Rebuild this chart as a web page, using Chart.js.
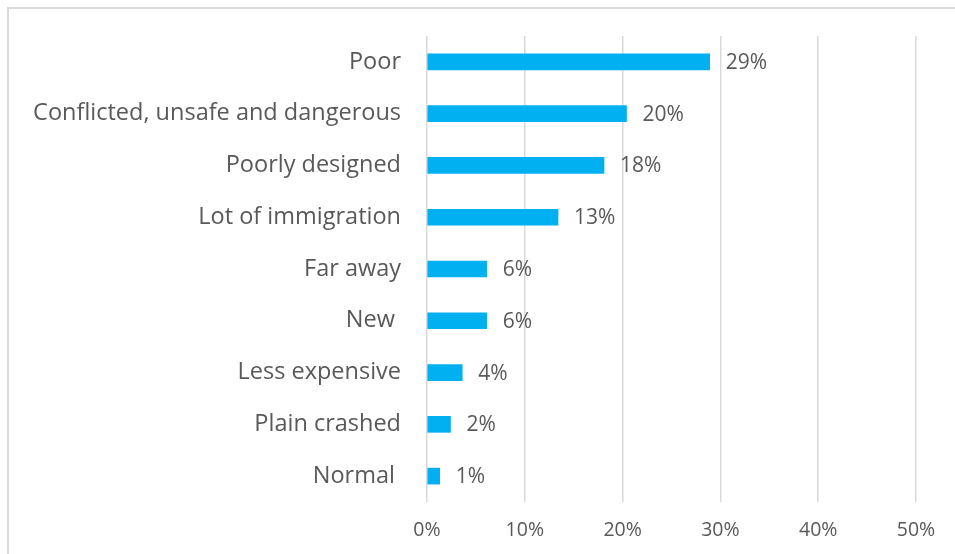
<!DOCTYPE html>
<html>
<head>
<meta charset="utf-8">
<script src="https://cdn.jsdelivr.net/npm/chart.js@4.4.0/dist/chart.umd.min.js"></script>
<style>
  html, body { margin: 0; padding: 0; background: #ffffff; overflow: hidden; }
  #marco {
    position: absolute; left: 7px; top: 7px; width: 960px; height: 560px;
    border-top: 2px solid #d9d9d9; border-left: 2px solid #d9d9d9;
  }
  #caja { position: absolute; left: 0; top: 0; width: 955px; height: 554px; }
</style>
</head>
<body>
<div id="marco"></div>
<div id="caja"><canvas id="barChart"></canvas></div>
<script>
// datos
const categorias = ["Poor", "Conflicted, unsafe and dangerous", "Poorly designed", "Lot of immigration",
    "Far away", "New ", "Less expensive", "Plain crashed", "Normal "];
const porcentajes = [28.9, 20.4, 18.1, 13.4, 6.1, 6.1, 3.6, 2.4, 1.3];
const ticksX = [0, 10, 20, 30, 40, 50];

const gris = '#595959';
const azul = '#00b0f0';

// etiquetas al final de cada barra
const etiquetasBarras = {
    id: 'etiquetasBarras',
    afterDatasetsDraw(chart) {
        const ctx = chart.ctx;
        const meta = chart.getDatasetMeta(0);
        ctx.save();
        ctx.fillStyle = gris;
        ctx.font = '21px "Open Sans"';
        ctx.textAlign = 'left';
        ctx.textBaseline = 'middle';
        meta.data.forEach((bar, i) => {
            ctx.fillText(Math.round(porcentajes[i]) + '%', bar.x + 16, bar.y + 1);
        });
        ctx.restore();
    }
};

const ctx = document.getElementById('barChart').getContext('2d');
const chart = new Chart(ctx, {
    type: 'bar',
    data: {
        labels: categorias,
        datasets: [{
            data: porcentajes,
            backgroundColor: azul,
            borderWidth: 0,
            barThickness: 16
        }]
    },
    options: {
        indexAxis: 'y',
        responsive: true,
        maintainAspectRatio: false,
        animation: false,
        layout: { padding: { top: 36, right: 39, bottom: 0, left: 0 } },
        plugins: {
            legend: { display: false },
            tooltip: { enabled: false }
        },
        scales: {
            x: {
                min: ticksX[0],
                max: ticksX[ticksX.length - 1],
                afterBuildTicks(scale) {
                    scale.ticks = ticksX.map(v => ({ value: v }));
                },
                afterFit(scale) { scale.height = 52; },
                ticks: {
                    color: gris,
                    font: { family: 'Open Sans', size: 19.5 },
                    padding: 17,
                    callback: v => v + '%'
                },
                grid: { color: '#d9d9d9', lineWidth: 1.5, drawTicks: false },
                border: { display: false }
            },
            y: {
                afterFit(scale) {
                    scale.width = 427;
                    scale.paddingTop = 0;
                    scale.paddingBottom = 0;
                },
                ticks: {
                    color: gris,
                    font: { family: 'Open Sans', size: 23.5 },
                    padding: 26
                },
                grid: { display: false, drawTicks: false },
                border: { display: false }
            }
        }
    },
    plugins: [etiquetasBarras]
});
</script>
</body>
</html>
